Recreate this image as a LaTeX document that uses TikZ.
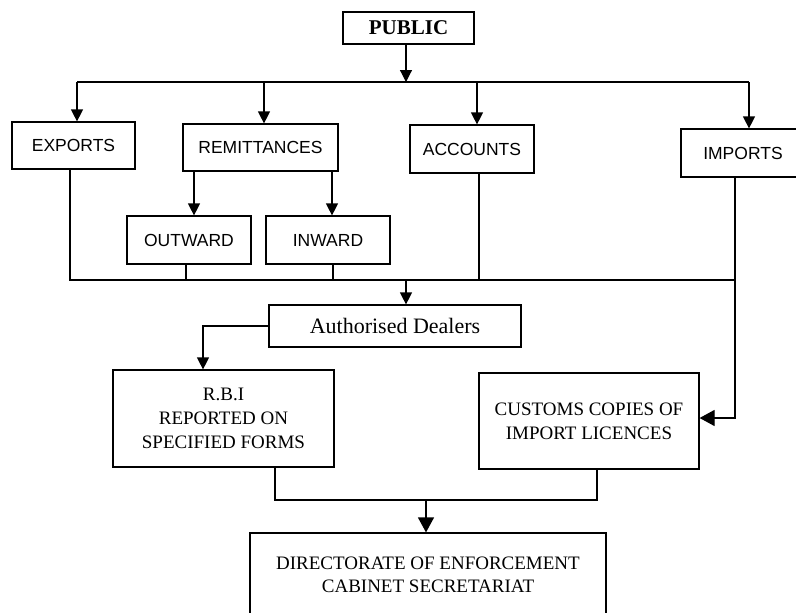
\documentclass[tikz,border=0pt]{standalone}
\usepackage{fontspec}
\setmainfont{Liberation Serif}
\setsansfont{Liberation Sans}
\usetikzlibrary{arrows.meta}
\tikzset{
  box/.style={draw, line width=1.2pt, inner sep=0pt, align=center},
  sbox/.style={box, font=\sffamily\fontsize{17.5}{21}\selectfont},
  rbox/.style={box, font=\fontsize{19}{24}\selectfont},
  ln/.style={line width=1.2pt},
  arr/.style={ln, -{Triangle[length=12pt,width=12pt]}},
  barr/.style={ln, -{Triangle[length=15pt,width=16pt]}}
}
\begin{document}
\begin{tikzpicture}[x=1pt,y=-1pt]
\useasboundingbox[fill=white] (0,0) rectangle (796,613);
\clip (0,0) rectangle (796,613);
% boxes
\node[box, font=\bfseries\fontsize{21}{24}\selectfont, minimum width=131pt, minimum height=32pt] (pub) at (408.5,28) {PUBLIC};
\node[sbox, minimum width=123pt, minimum height=47pt] (exp) at (73.5,145.5) {EXPORTS};
\node[sbox, minimum width=155pt, minimum height=47pt] (rem) at (260.5,147.5) {REMITTANCES};
\node[sbox, minimum width=124pt, minimum height=48pt] (acc) at (472,149) {ACCOUNTS};
\node[sbox, minimum width=124pt, minimum height=48pt] (imp) at (743,153) {IMPORTS};
\node[sbox, minimum width=124pt, minimum height=48pt] (out) at (189,240) {OUTWARD};
\node[sbox, minimum width=124pt, minimum height=48pt] (inw) at (328,240) {INWARD};
\node[box, font=\fontsize{22}{26}\selectfont, minimum width=252pt, minimum height=42pt] (ad) at (395,326) {Authorised Dealers};
\node[rbox, minimum width=221pt, minimum height=97pt] (rbi) at (223.5,418.5) {R.B.I\\REPORTED ON\\SPECIFIED FORMS};
\node[rbox, minimum width=220pt, minimum height=96pt] (cus) at (589,421) {CUSTOMS COPIES OF\\IMPORT LICENCES};
\node[rbox, font=\fontsize{19}{23}\selectfont, minimum width=356pt, minimum height=83pt] (dir) at (428,574.5) {DIRECTORATE OF ENFORCEMENT\\CABINET SECRETARIAT};
% top bus
\coordinate (tb) at (406,82);
\coordinate (t1) at (77,82);
\coordinate (t2) at (264,82);
\coordinate (t3) at (477,82);
\coordinate (t4) at (749,82);
\draw[arr] (pub.south -| tb) -- (tb);
\draw[ln] (t1) -- (t4);
\draw[arr] (t1) -- (t1 |- exp.north);
\draw[arr] (t2) -- (t2 |- rem.north);
\draw[arr] (t3) -- (t3 |- acc.north);
\draw[arr] (t4) -- (t4 |- imp.north);
% remittances split
\coordinate (r1) at (194,200);
\coordinate (r2) at (332,200);
\draw[arr] (rem.south -| r1) -- (out.north -| r1);
\draw[arr] (rem.south -| r2) -- (inw.north -| r2);
% lower bus
\coordinate (b1) at (70,280);
\coordinate (b2) at (186,280);
\coordinate (b3) at (333,280);
\coordinate (b4) at (479,280);
\coordinate (b5) at (735,280);
\coordinate (bm) at (406,280);
\coordinate (ic) at (735,418);
\draw[ln] (exp.south -| b1) -- (b1) -- (b5);
\draw[ln] (out.south -| b2) -- (b2);
\draw[ln] (inw.south -| b3) -- (b3);
\draw[ln] (acc.south -| b4) -- (b4);
\draw[barr] (imp.south -| b5) -- (ic) -- (ic -| cus.east);
\draw[arr] (bm) -- (bm |- ad.north);
% dealers to RBI
\coordinate (ar) at (203,326);
\draw[arr] (ad.west) -- (ar) -- (ar |- rbi.north);
% RBI and customs to directorate
\coordinate (j1) at (275,500);
\coordinate (j2) at (597,500);
\coordinate (jm) at (426,500);
\draw[ln] (rbi.south -| j1) -- (j1) -- (j2) -- (cus.south -| j2);
\draw[barr] (jm) -- (jm |- dir.north);
\end{tikzpicture}
\end{document}
